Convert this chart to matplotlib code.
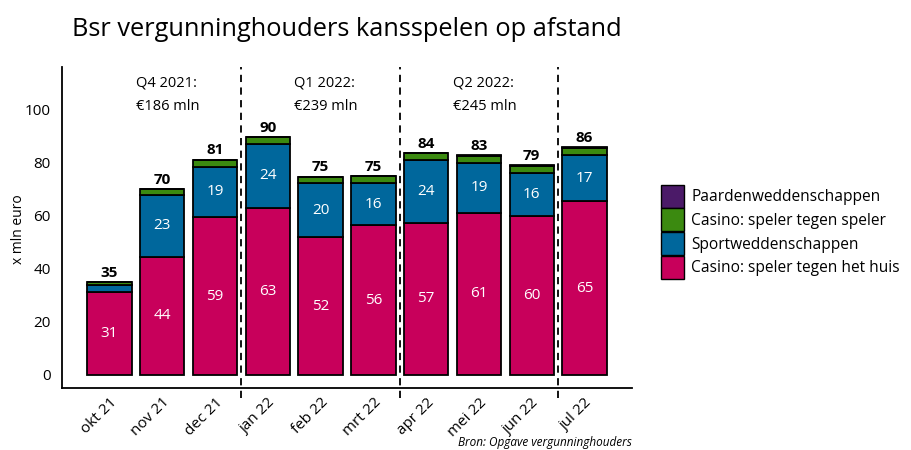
import numpy as np
import matplotlib
matplotlib.use("Agg")
import matplotlib.pyplot as plt
from matplotlib.patches import Patch

plt.rcParams['font.family'] = ['Open Sans', 'DejaVu Sans']

# Data (x mln euro)
maanden = ["okt 21", "nov 21", "dec 21", "jan 22", "feb 22", "mrt 22",
           "apr 22", "mei 22", "jun 22", "jul 22"]
casino_huis = [31.3, 44.4, 59.3, 62.9, 51.8, 56.2, 57.1, 60.9, 59.8, 65.3]
sport = [2.6, 23.4, 19.0, 24.0, 20.4, 16.0, 23.9, 18.9, 16.2, 17.3]
casino_speler = [1.0, 2.0, 2.6, 2.6, 2.3, 2.6, 2.5, 2.7, 2.7, 2.9]
paarden = [0.1, 0.1, 0.1, 0.1, 0.1, 0.1, 0.1, 0.1, 0.1, 0.1]

kwartalen = ["Q4 2021:\n€186 mln", "Q1 2022:\n€239 mln", "Q2 2022:\n€245 mln"]
kwartaal_start = [0.5, 3.5, 6.5]
kwartaal_grens = [2.5, 5.5, 8.5]

series = [casino_huis, sport, casino_speler, paarden]
namen = ["Casino: speler tegen het huis", "Sportweddenschappen",
         "Casino: speler tegen speler", "Paardenweddenschappen"]
kleuren = ["#c8005b", "#00679c", "#3b8a10", "#4b1a68"]

fig = plt.figure(figsize=(9.12, 4.5), dpi=100)
ax = fig.add_axes([0.068, 0.138, 0.625, 0.713])

x = np.arange(len(maanden))
onder = np.zeros(len(maanden))
for waarden, kleur, naam in zip(series, kleuren, namen):
    waarden = np.array(waarden)
    ax.bar(x, waarden, 0.84, bottom=onder, color=kleur, edgecolor="black",
           linewidth=1.3, label=naam, zorder=2)
    if naam in namen[:2]:
        for xi, b, v in zip(x, onder, waarden):
            if v >= 5:
                ax.text(xi, b + v / 2, f"{v:.0f}", ha="center", va="center",
                        color="white", fontsize=11)
    onder = onder + waarden

# totalen boven de staven
for xi, t in zip(x, onder):
    ax.text(xi, t + 0.8, f"{round(t):.0f}", ha="center", va="bottom",
            fontsize=11, fontweight="bold")

# kwartaalgrenzen
for g in kwartaal_grens:
    ax.axvline(g, ymin=-0.03, ymax=1, color="black", linestyle=(0, (4, 3)),
               linewidth=1.3, clip_on=False, zorder=1)
for s, k in zip(kwartaal_start, kwartalen):
    ax.text(s, 112.5, k, ha="left", va="top", fontsize=10.5, linespacing=1.75)

ax.set_xlim(-0.9, 9.9)
ax.set_ylim(-4.9, 115.8)
ax.set_yticks([0, 20, 40, 60, 80, 100])
ax.set_xticks(x)
ax.set_xticklabels(maanden, rotation=45, ha="right", rotation_mode="anchor")
ax.tick_params(axis="y", length=0, labelsize=11, pad=8)
ax.tick_params(axis="x", length=0, labelsize=11, pad=5)
ax.spines["top"].set_visible(False)
ax.spines["right"].set_visible(False)
ax.spines["left"].set_linewidth(1.3)
ax.spines["bottom"].set_linewidth(1.3)
fig.text(0.02, 0.49, "x mln euro", rotation=90, ha="center", va="center",
         fontsize=10)

handles = [Patch(facecolor=k, edgecolor="black", label=n)
           for k, n in zip(kleuren[::-1], namen[::-1])]
fig.legend(handles=handles, loc="center left", bbox_to_anchor=(0.718, 0.485),
           frameon=False, fontsize=11.2, handlelength=1.5, handleheight=1.9,
           handletextpad=0.45, labelspacing=0.05, borderaxespad=0)

fig.text(0.38, 0.935, "Bsr vergunninghouders kansspelen op afstand",
         ha="center", va="center", fontsize=18.3)
fig.text(0.693, 0.002, "Bron: Opgave vergunninghouders", ha="right",
         va="bottom", fontsize=8.5, style="italic")

fig.savefig("out.png", dpi=100)
